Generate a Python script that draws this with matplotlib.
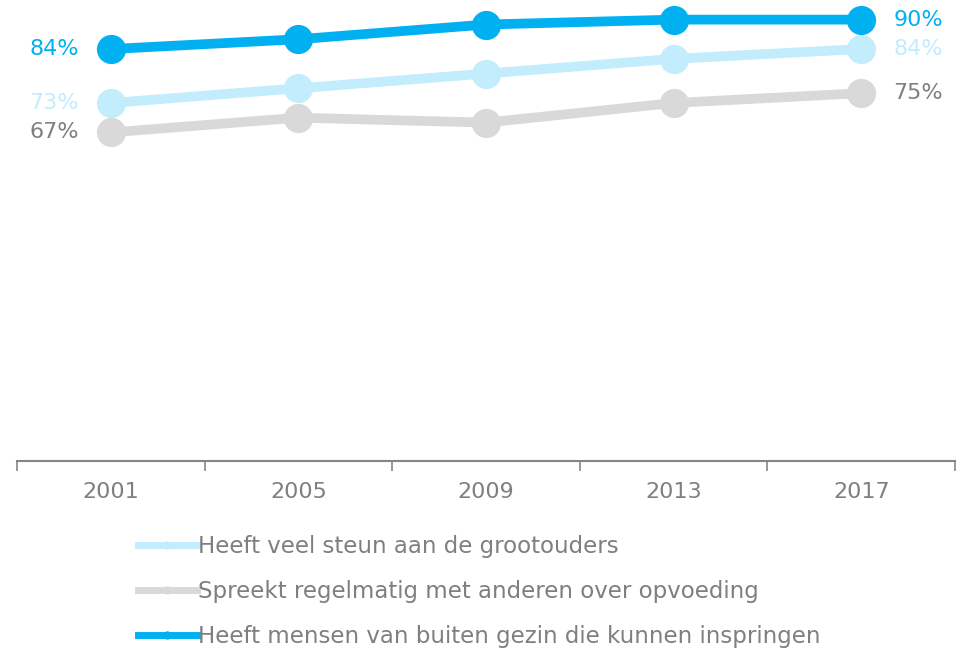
'''
Line chart: support for parents, 2001-2017.
'''

import matplotlib.pyplot as plt
from matplotlib.lines import Line2D

years = ['2001', '2005', '2009', '2013', '2017']
grootouders = [73, 76, 79, 82, 84]
opvoeding = [67, 70, 69, 73, 75]
inspringen = [84, 86, 89, 90, 90]

series_names = ['Heeft veel steun aan de grootouders',
                'Spreekt regelmatig met anderen over opvoeding',
                'Heeft mensen van buiten gezin die kunnen inspringen']

light_blue = '#c3ecfd'
light_gray = '#d9d9d9'
dark_blue = '#00b0f0'
text_gray = '#7f7f7f'

plt.rcParams['font.family'] = ['DejaVu Sans']
fs = 16

fig = plt.figure(figsize=(9.67, 6.48), dpi=100)
ax = fig.add_axes([17 / 967, 1 - 461 / 648, (955 - 17) / 967, 461 / 648])

x = list(range(len(years)))
series = [(grootouders, light_blue, light_blue),
          (opvoeding, light_gray, text_gray),
          (inspringen, dark_blue, dark_blue)]

for values, color, label_color in series:
    ax.plot(x, values, color=color, lw=7, marker='o', ms=20,
            solid_capstyle='round', clip_on=False, zorder=3)
    # end labels
    ax.annotate(f'{values[0]}%', (x[0], values[0]), xytext=(-23, 0),
                textcoords='offset points', ha='right', va='center',
                fontsize=fs, color=label_color)
    ax.annotate(f'{values[-1]}%', (x[-1], values[-1]), xytext=(23, 0),
                textcoords='offset points', ha='left', va='center',
                fontsize=fs, color=label_color)

ax.set_xlim(-0.5, len(years) - 0.5)
ax.set_ylim(0, 94)
ax.set_yticks([])
ax.set_xticks([i - 0.5 for i in range(len(years) + 1)])
ax.set_xticklabels([])
ax.set_xticks(x, minor=True)
ax.set_xticklabels(years, minor=True)
ax.tick_params(axis='x', which='major', length=7, width=1.2, color='#868686',
               direction='out')
ax.tick_params(axis='x', which='minor', length=0, pad=15, labelsize=fs,
               labelcolor=text_gray)

for side in ['top', 'right', 'left']:
    ax.spines[side].set_visible(False)
ax.spines['bottom'].set_color('#868686')
ax.spines['bottom'].set_linewidth(1.5)

handles = [Line2D([], [], color=c, lw=5, marker='o', ms=5)
           for c in [light_blue, light_gray, dark_blue]]
fig.legend(handles, series_names, loc='upper left',
           bbox_to_anchor=(117 / 967, 1 - 514 / 648), frameon=False,
           fontsize=16.5, labelcolor=text_gray, handlelength=2.6,
           handletextpad=0.05, labelspacing=0.97)

plt.savefig('out.png', dpi=100)
